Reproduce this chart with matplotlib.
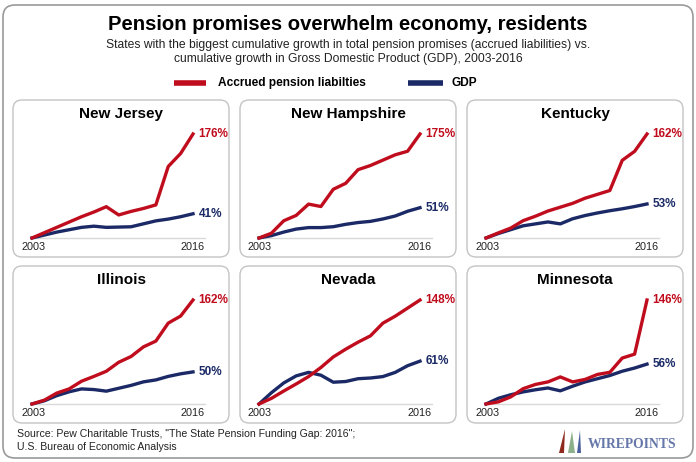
import matplotlib.pyplot as plt
from matplotlib.patches import FancyBboxPatch, Polygon

plt.rcParams['font.family'] = ['Liberation Sans', 'DejaVu Sans']

# data: cumulative growth since 2003, in percent
years = list(range(2003, 2017))
states = ['New Jersey', 'New Hampshire', 'Kentucky', 'Illinois', 'Nevada', 'Minnesota']

nj_pension = [0, 9, 18, 27, 36, 44, 53, 39, 45, 50, 56, 121, 143, 176]
nj_gdp = [0, 5, 10, 14, 18, 20, 18, 18.5, 19, 24, 29, 32, 36, 41]
nh_pension = [0, 8, 29, 38, 57, 53, 82, 92, 115, 122, 131, 140, 146, 175]
nh_gdp = [0, 4, 10, 15, 17.5, 17.5, 19, 23, 26, 28, 32, 37, 45, 51]
ky_pension = [0, 8, 15.5, 27, 34, 42, 48, 54, 62, 68, 74, 121, 135, 162]
ky_gdp = [0, 7, 13, 19, 22, 25, 22, 30, 35, 39, 42.5, 45.5, 49, 53]
il_pension = [0, 6, 17, 23.5, 35.5, 43, 51, 65, 74, 89, 98, 126, 137, 162]
il_gdp = [0, 5, 13, 19, 23.5, 22.5, 20, 24.5, 29, 34.5, 37.5, 43, 47, 50]
nv_pension = [0, 8, 18.5, 28.5, 39, 52, 67, 78, 88, 97, 115, 125, 136.5, 148]
nv_gdp = [0, 16, 30, 40, 45, 41, 31, 32, 36, 37, 39, 45, 54.5, 61]
mn_pension = [0, 3, 10, 21.5, 27.5, 31, 38, 31, 34.5, 41.5, 44.5, 64.5, 70, 146]
mn_gdp = [0, 8, 13, 17, 20, 22.5, 18.5, 25, 31, 35.5, 40, 46, 50.5, 56]

pension = [nj_pension, nh_pension, ky_pension, il_pension, nv_pension, mn_pension]
gdp = [nj_gdp, nh_gdp, ky_gdp, il_gdp, nv_gdp, mn_gdp]

RED = '#c00d1e'
BLUE = '#1b2a66'

W, H = 696, 462
fig = plt.figure(figsize=(W / 100, H / 100), dpi=100)

# background axes in pixel units (y down)
bg = fig.add_axes([0, 0, 1, 1])
bg.set_xlim(0, W)
bg.set_ylim(H, 0)
bg.axis('off')

bg.add_patch(FancyBboxPatch((3, 5), 690, 453, boxstyle='round,pad=0,rounding_size=12',
                            fc='white', ec='#9a9a9a', lw=1.2))

bg.text(W / 2, 24, 'Pension promises overwhelm economy, residents', ha='center', va='center',
        fontsize=14.6, fontweight='bold', color='black')
bg.text(W / 2, 45, 'States with the biggest cumulative growth in total pension promises (accrued liabilities) vs.',
        ha='center', va='center', fontsize=8.7, color='#222222')
bg.text(W / 2, 59, 'cumulative growth in Gross Domestic Product (GDP), 2003-2016',
        ha='center', va='center', fontsize=8.7, color='#222222')

# legend
bg.plot([174, 206], [83, 83], color=RED, lw=4, solid_capstyle='butt')
bg.text(218, 83, 'Accrued pension liabilties', ha='left', va='center', fontsize=8.6, fontweight='bold')
bg.plot([408, 443], [83, 83], color=BLUE, lw=4, solid_capstyle='butt')
bg.text(451, 83, 'GDP', ha='left', va='center', fontsize=8.6, fontweight='bold')

lefts = [13, 240, 467]
tops = [100, 266]
pw, ph = 216, 157

for i, name in enumerate(states):
    L = lefts[i % 3]
    T = tops[i // 3]
    bg.add_patch(FancyBboxPatch((L, T), pw, ph, boxstyle='round,pad=0,rounding_size=9',
                                fc='white', ec='#c4c4c4', lw=1))
    bg.text(L + pw / 2, T + 14, name, ha='center', va='center', fontsize=11, fontweight='bold')

    ax = fig.add_axes([(L + 19) / W, 1 - (T + 138) / H, 161 / W, 104 / H])
    ax.set_xlim(years[0], years[-1])
    ax.set_ylim(0, max(pension[i]))
    ax.axis('off')
    ax.axhline(0, xmin=0, xmax=1.075, color='#d9d9d9', lw=1, clip_on=False, zorder=1)
    ax.plot(years, gdp[i], color=BLUE, lw=2.4, clip_on=False, zorder=2)
    ax.plot(years, pension[i], color=RED, lw=2.4, clip_on=False, zorder=3)
    ax.annotate('%d%%' % round(pension[i][-1]), xy=(years[-1], pension[i][-1]), xytext=(4, 0),
                textcoords='offset points', ha='left', va='center', fontsize=8.5,
                fontweight='bold', color=RED)
    ax.annotate('%d%%' % round(gdp[i][-1]), xy=(years[-1], gdp[i][-1]), xytext=(4, 0),
                textcoords='offset points', ha='left', va='center', fontsize=8.5,
                fontweight='bold', color=BLUE)
    ax.text(-11 / 161, -9 / 104, str(years[0]), transform=ax.transAxes, ha='left', va='center',
            fontsize=7.8, color='#222222')
    ax.text(1 + 12 / 161, -9 / 104, str(years[-1]), transform=ax.transAxes, ha='right', va='center',
            fontsize=7.8, color='#222222')

# source note
bg.text(17, 434, 'Source: Pew Charitable Trusts, "The State Pension Funding Gap: 2016";',
        ha='left', va='center', fontsize=7.6, color='#222222')
bg.text(17, 447, 'U.S. Bureau of Economic Analysis', ha='left', va='center', fontsize=7.6, color='#222222')

# logo
bg.add_patch(Polygon([[559, 453], [564, 453], [565, 429]], closed=True, color='#8e2a1e', lw=0))
bg.add_patch(Polygon([[568, 453], [575, 453], [572, 431]], closed=True, color='#8db08a', lw=0))
bg.add_patch(Polygon([[577, 453], [581, 453], [580, 430]], closed=True, color='#4a5f9e', lw=0))
bg.text(588, 445, 'WIREPOINTS', ha='left', va='center', fontsize=9.8, fontweight='bold',
        family='Liberation Serif', color='#6677aa')

fig.savefig('out.png', dpi=100)
